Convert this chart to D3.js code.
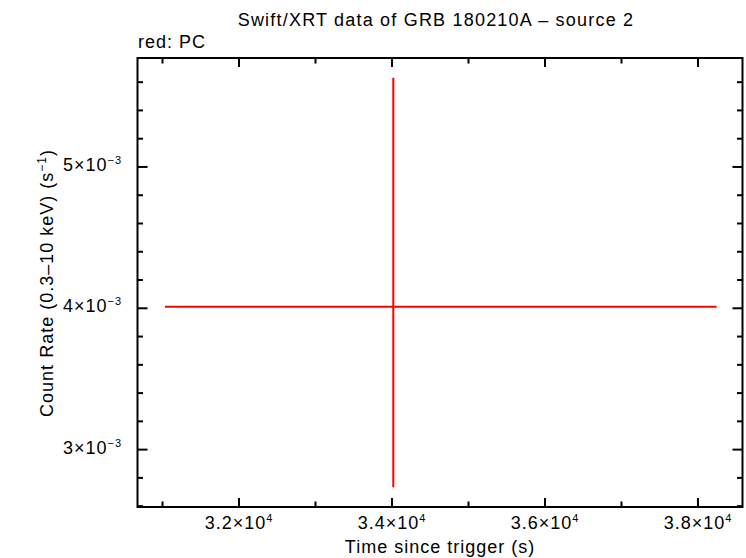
<!DOCTYPE html>
<html>
<head>
<meta charset="utf-8">
<script src="https://cdn.jsdelivr.net/npm/d3@7"></script>
<style>
  body { margin: 0; background: #fff; }
  text { font-family: "Liberation Sans", Arial, Helvetica, sans-serif; letter-spacing: 1px; }
</style>
</head>
<body>
<div id="chart"></div>
<script>
// data (one PC bin)
const time = [34017]
const time_err_neg = [2984]
const time_err_pos = [4227]
const rate = [0.004011]
const rate_err_neg = [0.001278]
const rate_err_pos = [0.001621]

const x_major = [32000, 34000, 36000, 38000]
const x_minor = [31000, 33000, 35000, 37000]
const y_major = [0.003, 0.004, 0.005]
const y_minor = [0.0026, 0.0028, 0.0032, 0.0034, 0.0036, 0.0038, 0.0042, 0.0044, 0.0046, 0.0048, 0.0052, 0.0054, 0.0056]

const width = 746
const height = 558
const margin = {left: 137.5, right: 3.5, top: 58, bottom: 51}

var svg = d3.select("#chart").append("svg")
	.attr("width", width)
	.attr("height", height)

var x = d3.scaleLinear()
	.domain([30673, 38582])
	.range([margin.left, width - margin.right])

var y = d3.scaleLinear()
	.domain([0.002594, 0.005771])
	.range([height - margin.bottom, margin.top])

// mantissa x 10^exp labels
function sci_label(sel, v, exp) {
	let m = +(v / Math.pow(10, exp)).toFixed(1)
	sel.append("tspan").text(m + "\u00d710")
	sel.append("tspan")
		.attr("dy", -7)
		.attr("font-size", "11px")
		.text(exp < 0 ? "\u2212" + (-exp) : exp)
}

var x0 = margin.left, x1 = width - margin.right
var y0 = height - margin.bottom, y1 = margin.top

// ticks, all four sides
function ticks(vals, len) {
	vals.forEach(v => {
		let px = x(v)
		svg.append("line").attr("x1", px).attr("x2", px).attr("y1", y0).attr("y2", y0 - len)
			.attr("stroke", "black").attr("stroke-width", 2)
		svg.append("line").attr("x1", px).attr("x2", px).attr("y1", y1).attr("y2", y1 + len)
			.attr("stroke", "black").attr("stroke-width", 2)
	})
}
ticks(x_major, 9)
ticks(x_minor, 5.5)

function yticks(vals, len) {
	vals.forEach(v => {
		let py = y(v)
		svg.append("line").attr("x1", x0).attr("x2", x0 + len).attr("y1", py).attr("y2", py)
			.attr("stroke", "black").attr("stroke-width", 2)
		svg.append("line").attr("x1", x1).attr("x2", x1 - len).attr("y1", py).attr("y2", py)
			.attr("stroke", "black").attr("stroke-width", 2)
	})
}
yticks(y_major, 10)
yticks(y_minor, 5.5)

svg.append("rect")
	.attr("x", x0).attr("y", y1)
	.attr("width", x1 - x0).attr("height", y0 - y1)
	.attr("fill", "none")
	.attr("stroke", "black")
	.attr("stroke-width", 2)

svg.selectAll(".xlabel")
	.data(x_major)
	.enter().append("text")
	.attr("class", "xlabel")
	.attr("x", d => x(d))
	.attr("y", 529)
	.attr("text-anchor", "middle")
	.attr("font-size", "18px")
	.each(function(d) { sci_label(d3.select(this), d, 4) })

svg.selectAll(".ylabel")
	.data(y_major)
	.enter().append("text")
	.attr("class", "ylabel")
	.attr("x", 122)
	.attr("y", d => y(d) + 4)
	.attr("text-anchor", "end")
	.attr("font-size", "18px")
	.each(function(d) { sci_label(d3.select(this), d, -3) })

// error bars
var pts = time.map((t, i) => ({t: t, tn: time_err_neg[i], tp: time_err_pos[i],
	r: rate[i], rn: rate_err_neg[i], rp: rate_err_pos[i]}))

var g = svg.append("g")
g.selectAll(".xerr")
	.data(pts)
	.enter().append("line")
	.attr("x1", d => x(d.t - d.tn))
	.attr("x2", d => x(d.t + d.tp))
	.attr("y1", d => y(d.r))
	.attr("y2", d => y(d.r))
	.attr("stroke", "#ff0000")
	.attr("stroke-width", 2)
g.selectAll(".yerr")
	.data(pts)
	.enter().append("line")
	.attr("x1", d => x(d.t))
	.attr("x2", d => x(d.t))
	.attr("y1", d => y(d.r - d.rn))
	.attr("y2", d => y(d.r + d.rp))
	.attr("stroke", "#ff0000")
	.attr("stroke-width", 2)

svg.append("text")
	.attr("x", 436)
	.attr("y", 26)
	.attr("text-anchor", "middle")
	.attr("font-size", "18px")
	.style("letter-spacing", "1.2px")
	.text("Swift/XRT data of GRB 180210A \u2013 source 2")

svg.append("text")
	.attr("x", 138)
	.attr("y", 48)
	.attr("font-size", "18px")
	.text("red: PC")

svg.append("text")
	.attr("x", 440)
	.attr("y", 553)
	.attr("text-anchor", "middle")
	.attr("font-size", "18px")
	.text("Time since trigger (s)")

var yt = svg.append("text")
	.attr("transform", "translate(53,283) rotate(-90)")
	.attr("text-anchor", "middle")
	.attr("font-size", "18px")
yt.append("tspan").text("Count Rate (0.3\u201310 keV) (s")
yt.append("tspan").attr("dy", -7).attr("font-size", "12px").text("\u22121")
yt.append("tspan").attr("dy", 7).text(")")
</script>
</body>
</html>
